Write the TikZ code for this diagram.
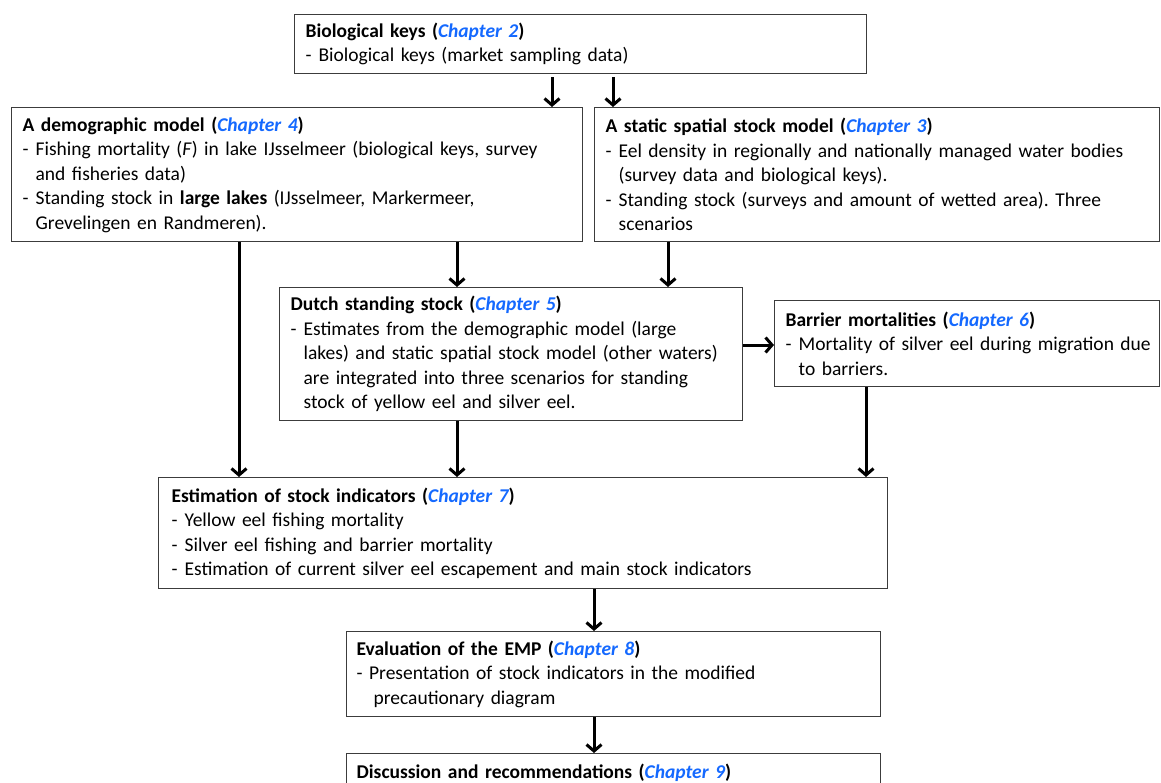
\documentclass[tikz,border=0pt]{standalone}
\usepackage{fontspec}
\setmainfont{Carlito}
\usetikzlibrary{arrows.meta}
\definecolor{chapblue}{RGB}{20,105,255}
\definecolor{boxline}{RGB}{60,60,60}
\newcommand\chap[1]{{\color{chapblue}\itshape Chapter #1}}
\newcommand\itm{\makebox[13pt][l]{-}}
\newcommand\cnt{\hspace*{13pt}}
\hbadness=10000 \hfuzz=100pt
\frenchspacing
\tikzset{
  box/.style={draw=boxline, line width=1.3pt, fill=white, anchor=north west,
    inner xsep=11pt, inner ysep=0pt, align=left,
    font=\fontsize{19.5}{24.5}\selectfont},
  arr/.style={line width=3pt, -{Straight Barb[length=6.5pt,width=15pt]}},
}
\begin{document}
\begin{tikzpicture}[x=1pt,y=-1pt]
\useasboundingbox (0,0) rectangle (1161,782);
\clip (0,0) rectangle (1161,782);
\fill[white] (0,0) rectangle (1161,782);

\node[box, text width=550pt, minimum height=59pt] (bio) at (294,14)
 {\textbf{Biological keys (\chap{2})}\\
  \itm Biological keys (market sampling data)};

\node[box, text width=549pt, minimum height=134pt] (demo) at (11,107)
 {\textbf{A demographic model (\chap{4})}\\
  \itm Fishing mortality (\textit{F}) in lake IJsselmeer (biological keys, survey\\
  \cnt and fisheries data)\\
  \itm Standing stock in \textbf{large lakes} (IJsselmeer, Markermeer,\\
  \cnt Grevelingen en Randmeren).};

\node[box, text width=543pt, minimum height=134pt] (stat) at (594,107)
 {\textbf{A static spatial stock model (\chap{3})}\\
  \itm Eel density in regionally and nationally managed water bodies\\
  \cnt (survey data and biological keys).\\
  \itm Standing stock (surveys and amount of wetted area). Three\\
  \cnt scenarios};

\node[box, text width=441pt, minimum height=133pt] (dutch) at (279,287)
 {\textbf{Dutch standing stock (\chap{5})}\\
  \itm Estimates from the demographic model (large\\
  \cnt lakes) and static spatial stock model (other waters)\\
  \cnt are integrated into three scenarios for standing\\
  \cnt stock of yellow eel and silver eel.};

\node[box, text width=363pt, minimum height=86pt] (barr) at (774,300)
 {\textbf{Barrier mortalities (\chap{6})}\\
  \mbox{\itm Mortality of silver eel during migration due}\\
  \cnt to barriers.};

\node[box, text width=703pt, minimum height=111pt, inner xsep=13pt] (est) at (158,477)
 {\textbf{Estimation of stock indicators (\chap{7})}\\
  \itm Yellow eel fishing mortality\\
  \itm Silver eel fishing and barrier mortality\\
  \itm Estimation of current silver eel escapement and main stock indicators};

\node[box, text width=514pt, minimum height=85pt, inner xsep=10pt] (eval) at (346,631)
 {\textbf{Evaluation of the EMP (\chap{8})}\\
  - Presentation of stock indicators in the modified\\
  \hspace*{17pt}precautionary diagram};

\node[box, text width=514pt, minimum height=85pt, inner xsep=10pt] (disc) at (346,753)
 {\textbf{Discussion and recommendations (\chap{9})}\\ \phantom{x}\\ \phantom{x}};

\draw[arr, shorten <=3pt] (552,0 |- bio.south) -- (552,0 |- demo.north);
\draw[arr, shorten <=3pt] (613,0 |- bio.south) -- (613,0 |- stat.north);
\draw[arr] (239,0 |- demo.south) -- (239,0 |- est.north);
\draw[arr] (457,0 |- demo.south) -- (457,0 |- dutch.north);
\draw[arr] (668,0 |- stat.south) -- (668,0 |- dutch.north);
\draw[arr] (dutch.east |- 0,345) -- (barr.west |- 0,345);
\draw[arr] (457,0 |- dutch.south) -- (457,0 |- est.north);
\draw[arr] (866,0 |- barr.south) -- (866,0 |- est.north);
\draw[arr] (594,0 |- est.south) -- (594,0 |- eval.north);
\draw[arr] (594,0 |- eval.south) -- (594,0 |- disc.north);
\end{tikzpicture}
\end{document}
